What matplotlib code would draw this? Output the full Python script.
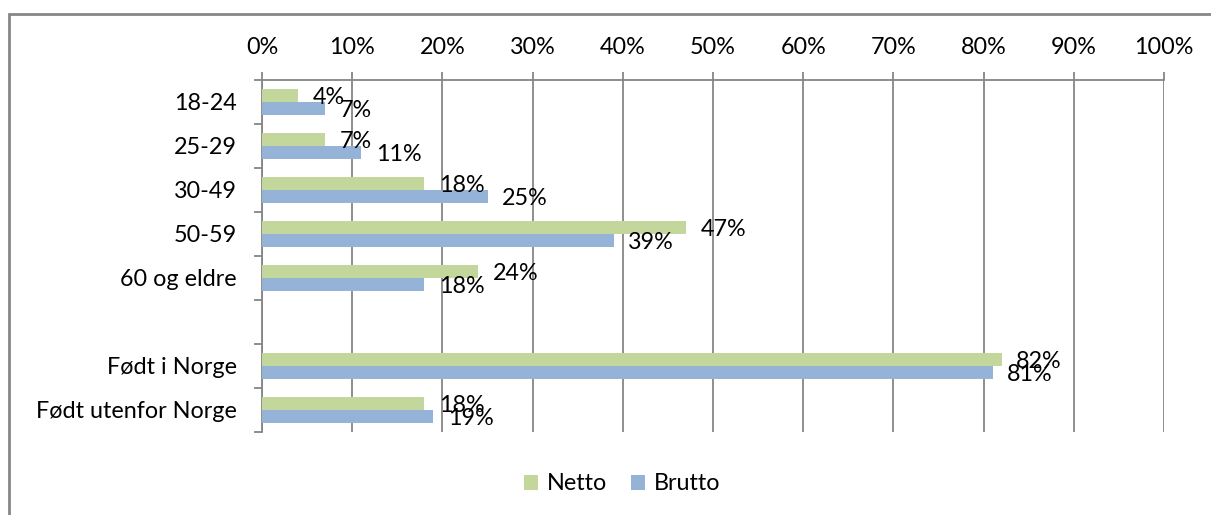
import numpy as np
import matplotlib
matplotlib.use("Agg")
import matplotlib.pyplot as plt
from matplotlib.patches import Rectangle

plt.rcParams['font.family'] = ['Lato', 'DejaVu Sans']

categories = ["18-24", "25-29", "30-49", "50-59", "60 og eldre", "",
              "Født i Norge", "Født utenfor Norge"]
netto = [4, 7, 18, 47, 24, np.nan, 82, 18]
brutto = [7, 11, 25, 39, 18, np.nan, 81, 19]
netto_labels = ["4%", "7%", "18%", "47%", "24%", "", "82%", "18%"]
brutto_labels = ["7%", "11%", "25%", "39%", "18%", "", "81%", "19%"]
ticks = [0, 10, 20, 30, 40, 50, 60, 70, 80, 90, 100]

GREEN = "#C3D69B"
BLUE = "#95B3D7"
GRAY = "#868686"
FS = 16.8

fig = plt.figure(figsize=(12.11, 5.15), dpi=100)
ax = fig.add_axes([262/1211, 1 - 432/515, (1164-262)/1211, (432-80)/515])

# outer chart frame
fig.patches.append(Rectangle((9/1211, -0.1), 1.2, 1 - 14/515 + 0.1,
                             transform=fig.transFigure, fill=False,
                             edgecolor=GRAY, linewidth=2))

y = np.arange(len(categories))
h = 0.285
ax.barh(y - h/2, netto, height=h, color=GREEN, label="Netto", zorder=3)
ax.barh(y + h/2, brutto, height=h, color=BLUE, label="Brutto", zorder=3)

for i in range(len(categories)):
    if not np.isnan(netto[i]):
        ax.annotate(netto_labels[i], (netto[i], y[i] - h/2), xytext=(10.5, -1),
                    textcoords="offset points", ha="left", va="center", fontsize=FS)
    if not np.isnan(brutto[i]):
        ax.annotate(brutto_labels[i], (brutto[i], y[i] + h/2), xytext=(10.5, -1.5),
                    textcoords="offset points", ha="left", va="center", fontsize=FS)

ax.set_xlim(0, 100)
ax.set_ylim(len(categories) - 0.5, -0.5)

ax.xaxis.tick_top()
ax.set_xticks(ticks)
ax.set_xticklabels([f"{t}%" for t in ticks], fontsize=FS)
ax.tick_params(axis="x", direction="out", length=6, width=1.3, color=GRAY, pad=10)
ax.xaxis.grid(True, color=GRAY, linewidth=1.3, zorder=0)

ax.set_yticks(y)
ax.set_yticklabels(categories, fontsize=FS)
ax.set_yticks(np.arange(len(categories) + 1) - 0.5, minor=True)
ax.tick_params(axis="y", which="major", length=0, pad=18)
ax.tick_params(axis="y", which="minor", direction="out", length=6, width=1.3, color=GRAY)

for s in ["right", "bottom"]:
    ax.spines[s].set_visible(False)
for s in ["left", "top"]:
    ax.spines[s].set_color(GRAY)
    ax.spines[s].set_linewidth(1.3)

fig.legend(loc="center", bbox_to_anchor=(622/1211, 1 - 484/515), ncol=2,
           frameon=False, fontsize=FS, handlelength=0.6, handleheight=0.6,
           handletextpad=0.4, columnspacing=1.0)

fig.savefig("out.png", dpi=100)
